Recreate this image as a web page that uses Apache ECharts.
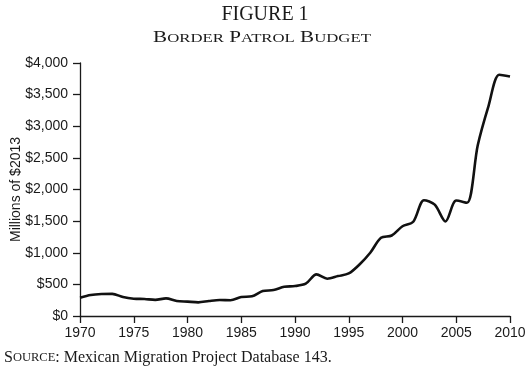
<!DOCTYPE html>
<html>
<head>
<meta charset="utf-8">
<script src="https://cdn.jsdelivr.net/npm/echarts@6/dist/echarts.min.js"></script>
<style>
html,body{margin:0;padding:0;background:#fff;}
#chart{width:530px;height:381px;}
</style>
</head>
<body>
<div id="chart"></div>
<script>
const years = [1970,1971,1972,1973,1974,1975,1976,1977,1978,1979,1980,1981,1982,1983,1984,1985,1986,1987,1988,1989,1990,1991,1992,1993,1994,1995,1996,1997,1998,1999,2000,2001,2002,2003,2004,2005,2006,2007,2008,2009,2010];
const budget = [290,331,347,350,300,274,268,255,279,237,227,216,237,252,250,300,311,394,410,463,473,511,658,590,631,673,815,1000,1236,1273,1419,1490,1830,1760,1495,1825,1790,2700,3320,3815,3785];
const yTicks = [0,500,1000,1500,2000,2500,3000,3500,4000];
const xTicks = [1970,1975,1980,1985,1990,1995,2000,2005,2010];
const figureLabel = 'FIGURE 1';
const subtitleRich = '{b|B}{s|ORDER} {b|P}{s|ATROL} {b|B}{s|UDGET}';
const sourceRich = '{b|S}{s|OURCE}: Mexican Migration Project Database 143.';
const yName = 'Millions of $2013';

const chart = echarts.init(document.getElementById('chart'), null, {renderer:'canvas'});
const serif = 'Liberation Serif';
const sans = 'Liberation Sans';
const ink = '#1a1a1a';
chart.setOption({
  animation:false,
  backgroundColor:'#fff',
  title:[
    {text:figureLabel, left:'center', top:0,
     textStyle:{fontFamily:serif, fontSize:20, fontWeight:'normal', color:ink}}
  ],
  graphic:[
    {type:'text', x:262, y:38, scaleX:1.24, scaleY:1,
     style:{text:subtitleRich, align:'center', verticalAlign:'middle',
       font:'17px "Liberation Serif"', fill:ink,
       rich:{b:{fontFamily:serif,fontSize:17,fill:ink,color:ink}, s:{fontFamily:serif,fontSize:13.5,fill:ink,color:ink}}}},
    {type:'text', x:4, y:358, scaleX:1.0,
     style:{text:sourceRich, align:'left', verticalAlign:'middle',
       font:'16px "Liberation Serif"', fill:ink,
       rich:{b:{fontFamily:serif,fontSize:16,fill:ink,color:ink}, s:{fontFamily:serif,fontSize:12.5,fill:ink,color:ink}}}}
  ],
  grid:{left:80, right:20, top:63, bottom:65, containLabel:false, outerBoundsMode:'none'},
  xAxis:{
    type:'value', min:xTicks[0], max:xTicks[xTicks.length-1], interval:5,
    axisLine:{show:true, lineStyle:{color:ink, width:1.3}},
    axisTick:{show:true, length:7, lineStyle:{color:ink, width:1.3}},
    axisLabel:{fontFamily:sans, fontSize:14, color:ink, margin:10,
      formatter:v=>String(v)},
    splitLine:{show:false}
  },
  yAxis:{
    type:'value', min:yTicks[0], max:yTicks[yTicks.length-1], interval:500,
    name:yName, nameLocation:'middle', nameGap:57, nameRotate:90, nameMoveOverlap:false,
    nameTextStyle:{fontFamily:sans, fontSize:14, color:ink},
    axisLine:{show:true, lineStyle:{color:ink, width:1.3}},
    axisTick:{show:true, length:7, lineStyle:{color:ink, width:1.3}},
    axisLabel:{fontFamily:sans, fontSize:14, color:ink, margin:12,
      formatter:v=>'$'+v.toLocaleString('en-US')},
    splitLine:{show:false}
  },
  series:[{
    type:'line',
    data:years.map((y,i)=>[y,budget[i]]),
    smooth:0.3,
    showSymbol:false,
    lineStyle:{color:'#111', width:2.6}
  }]
});
</script>
</body>
</html>
